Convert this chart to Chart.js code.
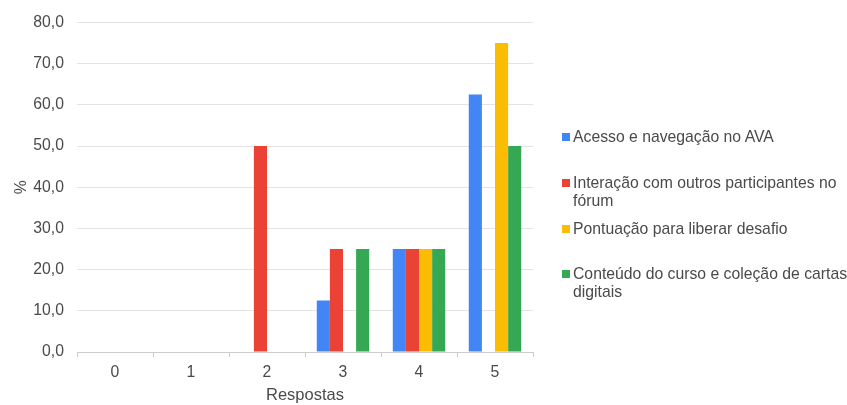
<!DOCTYPE html>
<html>
<head>
<meta charset="utf-8">
<script src="https://cdn.jsdelivr.net/npm/chart.js@4/dist/chart.umd.min.js"></script>
<style>
  html, body { margin: 0; padding: 0; background: #fff; }
  #wrap { position: relative; width: 847px; height: 405px; }
  #legend { position: absolute; left: 562px; top: 0; font-family: "Liberation Sans", Arial, sans-serif; font-size: 15.75px; color: #4a4a4a; }
  .item { position: absolute; left: 0; line-height: 18px; padding-left: 11px; white-space: normal; }
  .sw { position: absolute; left: 0; top: 5px; width: 8px; height: 8px; }
</style>
</head>
<body>
<div id="wrap">
  <canvas id="c" width="847" height="405"></canvas>
  <div id="legend"></div>
</div>
<script>
const categories = ["0", "1", "2", "3", "4", "5"];
const seriesNames = [
  "Acesso e navegação no AVA",
  "Interação com outros participantes no fórum",
  "Pontuação para liberar desafio",
  "Conteúdo do curso e coleção de cartas digitais"
];
const acessoAVA = [0, 0, 0, 12.5, 25, 62.5];
const interacaoForum = [0, 0, 50, 25, 25, 0];
const pontuacaoDesafio = [0, 0, 0, 0, 25, 75];
const conteudoCartas = [0, 0, 0, 25, 25, 50];
const seriesColors = ["#4285F4", "#EA4335", "#FBBC04", "#34A853"];
const yTitle = "%";
const xTitle = "Respostas";

const allValues = [acessoAVA, interacaoForum, pontuacaoDesafio, conteudoCartas];
const legendTops = [128, 174, 220, 265];

const legend = document.getElementById('legend');
seriesNames.forEach((n, i) => {
  const d = document.createElement('div');
  d.className = 'item';
  d.style.top = legendTops[i] + 'px';
  d.style.width = '276px';
  const s = document.createElement('span');
  s.className = 'sw';
  s.style.background = seriesColors[i];
  d.appendChild(s);
  d.appendChild(document.createTextNode(n));
  legend.appendChild(d);
});

const fontFam = "'Liberation Sans', Arial, sans-serif";
const textColor = '#4a4a4a';
new Chart(document.getElementById('c'), {
  type: 'bar',
  data: {
    labels: categories,
    datasets: seriesNames.map((n, i) => ({
      label: n,
      data: allValues[i],
      backgroundColor: seriesColors[i],
      borderWidth: 0,
      categoryPercentage: 0.69,
      barPercentage: 1.0
    }))
  },
  options: {
    responsive: false,
    animation: false,
    layout: { padding: { top: 13, right: 314, left: 12, bottom: 0 } },
    plugins: { legend: { display: false }, tooltip: { enabled: false } },
    scales: {
      x: {
        grid: { display: true, drawOnChartArea: false, drawTicks: true, tickLength: 5, color: '#cccccc', offset: true },
        border: { color: '#cccccc' },
        ticks: { color: textColor, font: { family: fontFam, size: 15.75 }, padding: 6 },
        title: { display: true, text: xTitle, color: textColor, font: { family: fontFam, size: 16.5 }, padding: { top: 3, bottom: 0 } },
        afterFit: (a) => { a.height = 53; }
      },
      y: {
        min: 0, max: 80,
        ticks: { stepSize: 10, color: textColor, font: { family: fontFam, size: 15.75 }, padding: 13,
          callback: (v) => v.toFixed(1).replace('.', ',') },
        grid: { color: '#e3e3e3', drawTicks: false },
        border: { display: false },
        title: { display: true, text: yTitle, color: textColor, font: { family: fontFam, size: 15.75 }, padding: 0 },
        afterFit: (a) => { a.width = 65; }
      }
    }
  }
});
</script>
</body>
</html>
